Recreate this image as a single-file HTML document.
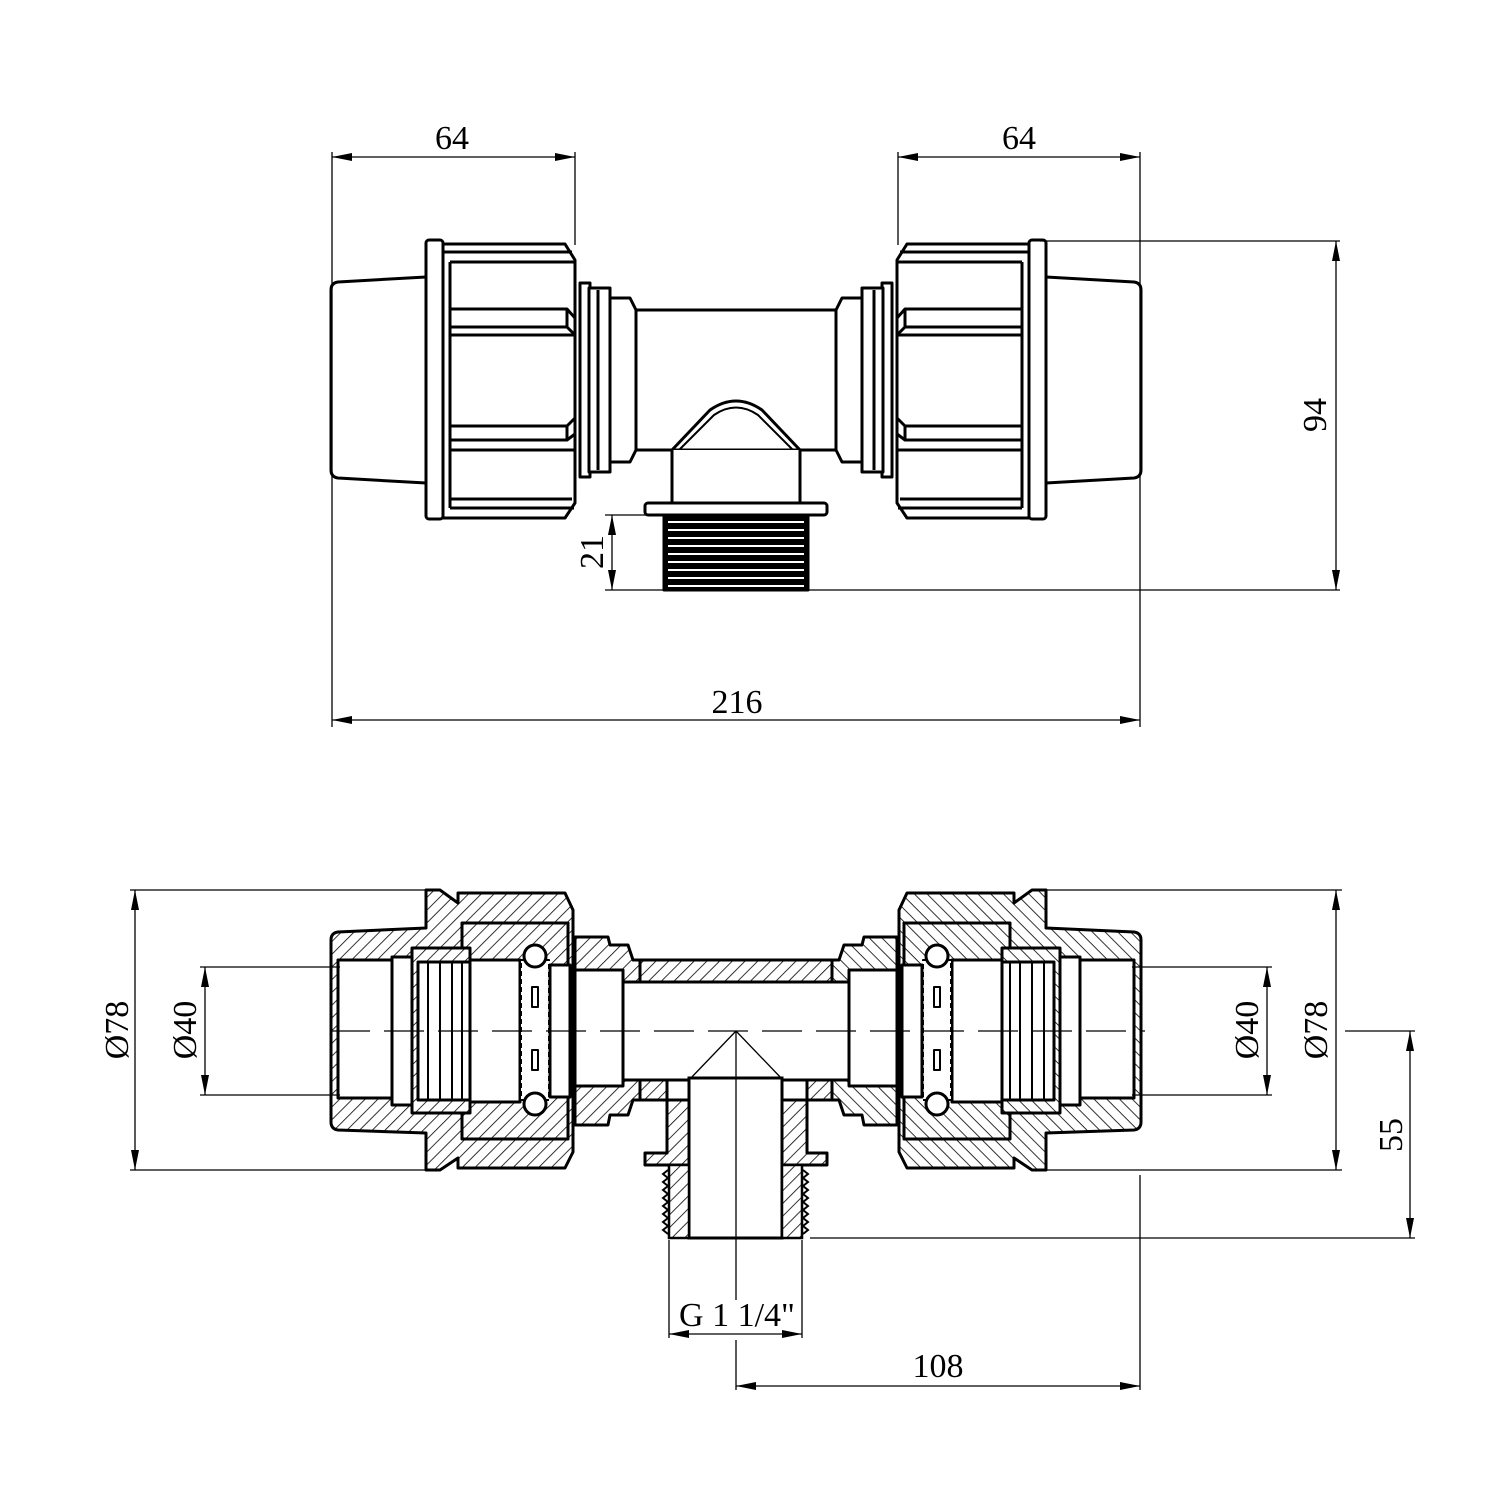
<!DOCTYPE html>
<html><head><meta charset="utf-8"><style>html,body{margin:0;padding:0;background:#fff}svg{display:block}</style></head><body>
<svg width="1500" height="1500" viewBox="0 0 1500 1500" xmlns="http://www.w3.org/2000/svg" font-family="Liberation Serif, serif">
<defs>
<pattern id="h" patternUnits="userSpaceOnUse" width="9" height="9" patternTransform="rotate(45)">
<rect width="9" height="9" fill="#fff"/><line x1="0" y1="0" x2="0" y2="9" stroke="#000" stroke-width="1.6"/>
</pattern>
<marker id="a" viewBox="0 0 20 8" refX="20" refY="4" markerWidth="20" markerHeight="8" markerUnits="userSpaceOnUse" orient="auto-start-reverse"><path d="M0,0 L20,4 L0,8 z" fill="#000"/></marker>
<g id="topL" fill="#fff" stroke="#000" stroke-width="3" stroke-linejoin="round">
<path d="M338,282 L426,277 L426,483 L338,478 Q331,477 331,470 L331,290 Q331,283 338,282 z"/>
<rect x="426" y="240" width="17" height="279" rx="3"/>
<path d="M443,244 L565,244 L575,260 L575,503 L565,518 L443,518 z"/>
<path d="M443,252 L572,252 M450,262 L574,262 M450,262 L450,508 M450,499 L572,499 M450,508 L574,508" fill="none"/>
<path d="M450,309 L567,309 L575,318 M450,327 L567,327 L575,335 M450,335 L575,335 M567,309 L567,327" fill="none"/>
<path d="M450,426 L567,426 L575,418 M450,440 L567,440 L575,434 M450,450 L575,450 M567,426 L567,440" fill="none"/>
<rect x="580" y="283" width="10" height="194"/>
<path d="M589,288 L610,288 L610,298 L630,298 L636,310 L636,450 L630,462 L610,462 L610,472 L589,472 z"/>
<path d="M598,290 L598,470 M610,298 L610,462" fill="none"/>
</g>
<g id="botL" stroke="#000" stroke-width="3" stroke-linejoin="round">
<path d="M338,932 L426,928 L426,890 L440,890 L458,903 L458,893 L565,893 L573,910 L573,1152 L565,1168 L458,1168 L458,1158 L440,1170 L426,1170 L426,1133 L338,1130 Q331,1129 331,1122 L331,940 Q331,933 338,932 z" fill="url(#h)"/>
<rect x="338" y="960" width="120" height="138" fill="#fff"/>
<rect x="462" y="923" width="106" height="112" fill="url(#h)"/>
<rect x="462" y="1027" width="106" height="112" fill="url(#h)"/>
<rect x="412" y="948" width="58" height="165" fill="url(#h)"/>
<rect x="470" y="960" width="50" height="142" fill="#fff"/>
<rect x="392" y="957" width="20" height="148" fill="#fff"/>
<rect x="418" y="962" width="52" height="138" fill="#fff"/>
<path d="M428,962 L428,1100 M440,962 L440,1100 M452,962 L452,1100 M462,962 L462,1100" fill="none" stroke-width="2"/>
<rect x="521" y="960" width="28" height="140" fill="#fff" stroke-width="2" stroke-dasharray="5 3"/>
<circle cx="535" cy="956" r="11" fill="#fff"/>
<circle cx="535" cy="1104" r="11" fill="#fff"/>
<rect x="532" y="987" width="6" height="20" fill="#fff" stroke-width="2"/>
<rect x="532" y="1050" width="6" height="20" fill="#fff" stroke-width="2"/>
<rect x="550" y="965" width="20" height="132" fill="#fff"/>
<path d="M575,937 L608,937 L610,945 L628,945 L633,960 L640,960 L640,982 L623,982 L623,1080 L640,1080 L640,1100 L633,1100 L628,1115 L610,1115 L608,1125 L575,1125 z" fill="url(#h)"/>
<rect x="575" y="970" width="48" height="116" fill="#fff"/>
</g>
</defs>
<rect width="1500" height="1500" fill="#fff"/>

<!-- TOP VIEW -->
<g fill="#fff" stroke="#000" stroke-width="3" stroke-linejoin="round">
<rect x="636" y="310" width="200" height="140"/>
<path d="M672,450 L710,410 Q736,392 762,410 L800,450 z"/>
<path d="M679,450 L714,415 Q736,400 758,415 L793,450" fill="none" stroke-width="2"/>
<rect x="672" y="450" width="128" height="55" stroke="none"/>
<path d="M672,450 L672,505 M800,450 L800,505" fill="none"/>
<rect x="645" y="503" width="182" height="12" rx="3"/>
<rect x="664" y="515" width="144" height="75" fill="#000"/>
</g>
<g stroke="#fff" stroke-width="2">
<path d="M668,522 L804,522 M668,530 L804,530 M668,538 L804,538 M668,546 L804,546 M668,554 L804,554 M668,562 L804,562 M668,570 L804,570 M668,578 L804,578 M668,586 L804,586"/>
</g>
<use href="#topL"/>
<use href="#topL" transform="translate(1472,0) scale(-1,1)"/>

<!-- top dims -->
<g stroke="#000" stroke-width="1.3" fill="none">
<path d="M332,152 L332,727 M575,152 L575,245 M898,152 L898,245 M1140,152 L1140,727"/>
<path d="M1040,241 L1340,241 M605,590 L1340,590 M605,515 L650,515"/>
</g>
<g stroke="#000" stroke-width="1.3" fill="none" marker-start="url(#a)" marker-end="url(#a)">
<line x1="332" y1="157" x2="575" y2="157"/>
<line x1="898" y1="157" x2="1140" y2="157"/>
<line x1="332" y1="720" x2="1140" y2="720"/>
<line x1="1336" y1="241" x2="1336" y2="590"/>
<line x1="612" y1="515" x2="612" y2="590"/>
</g>
<g font-size="34" text-anchor="middle" fill="#000">
<text x="452" y="149">64</text>
<text x="1019" y="149">64</text>
<text x="737" y="713">216</text>
<text transform="translate(1326,415) rotate(-90)">94</text>
<text transform="translate(603,552) rotate(-90)">21</text>
</g>

<!-- BOTTOM VIEW -->
<path d="M640,960 L832,960 L832,982 L640,982 z M640,1080 L667,1080 L667,1153 L645,1153 L645,1165 L827,1165 L827,1153 L807,1153 L807,1080 L832,1080 L832,1100 L640,1100 z" fill="url(#h)" stroke="#000" stroke-width="3" stroke-linejoin="round"/>
<rect x="623" y="982" width="226" height="98" fill="#fff" stroke="#000" stroke-width="3"/>
<rect x="689" y="1078" width="93" height="160" fill="#fff" stroke="#000" stroke-width="3"/>
<rect x="669" y="1165" width="20" height="73" fill="url(#h)" stroke="#000" stroke-width="2.5"/>
<rect x="782" y="1165" width="20" height="73" fill="url(#h)" stroke="#000" stroke-width="2.5"/>
<path d="M668,1170 l-5,4 l5,4 l-5,4 l5,4 l-5,4 l5,4 l-5,4 l5,4 l-5,4 l5,4 l-5,4 l5,4 l-5,4 l5,4 l-5,4 l5,4 M803,1170 l5,4 l-5,4 l5,4 l-5,4 l5,4 l-5,4 l5,4 l-5,4 l5,4 l-5,4 l5,4 l-5,4 l5,4 l-5,4 l5,4 l-5,4" fill="none" stroke="#000" stroke-width="2"/>
<use href="#botL"/>
<use href="#botL" transform="translate(1472,0) scale(-1,1)"/>
<g stroke="#000" stroke-width="1.3" fill="none">
<path d="M330,1031 L1145,1031" stroke-dasharray="40 14"/>
<path d="M736,1031 L736,1300 M736,1031 L689,1080 M736,1031 L783,1080"/>
<path d="M130,890 L430,890 M130,1170 L430,1170 M200,967 L340,967 M200,1095 L340,1095"/>
<path d="M1042,890 L1342,890 M1042,1170 L1342,1170 M1132,967 L1272,967 M1132,1095 L1272,1095"/>
<path d="M1345,1031 L1415,1031 M810,1238 L1415,1238 M669,1240 L669,1338 M802,1240 L802,1338 M736,1340 L736,1390 M1140,1175 L1140,1390"/>
</g>
<g stroke="#000" stroke-width="1.3" fill="none" marker-start="url(#a)" marker-end="url(#a)">
<line x1="135" y1="890" x2="135" y2="1170"/>
<line x1="205" y1="967" x2="205" y2="1095"/>
<line x1="1336" y1="890" x2="1336" y2="1170"/>
<line x1="1267" y1="967" x2="1267" y2="1095"/>
<line x1="1410" y1="1031" x2="1410" y2="1238"/>
<line x1="669" y1="1334" x2="802" y2="1334"/>
<line x1="736" y1="1386" x2="1140" y2="1386"/>
</g>
<g font-size="34" text-anchor="middle" fill="#000">
<text transform="translate(128,1030) rotate(-90)">Ø78</text>
<text transform="translate(196,1030) rotate(-90)">Ø40</text>
<text transform="translate(1258,1030) rotate(-90)">Ø40</text>
<text transform="translate(1327,1030) rotate(-90)">Ø78</text>
<text transform="translate(1402,1135) rotate(-90)">55</text>
<text x="737" y="1326">G 1 1/4"</text>
<text x="938" y="1377">108</text>
</g>
</svg>
</body></html>
